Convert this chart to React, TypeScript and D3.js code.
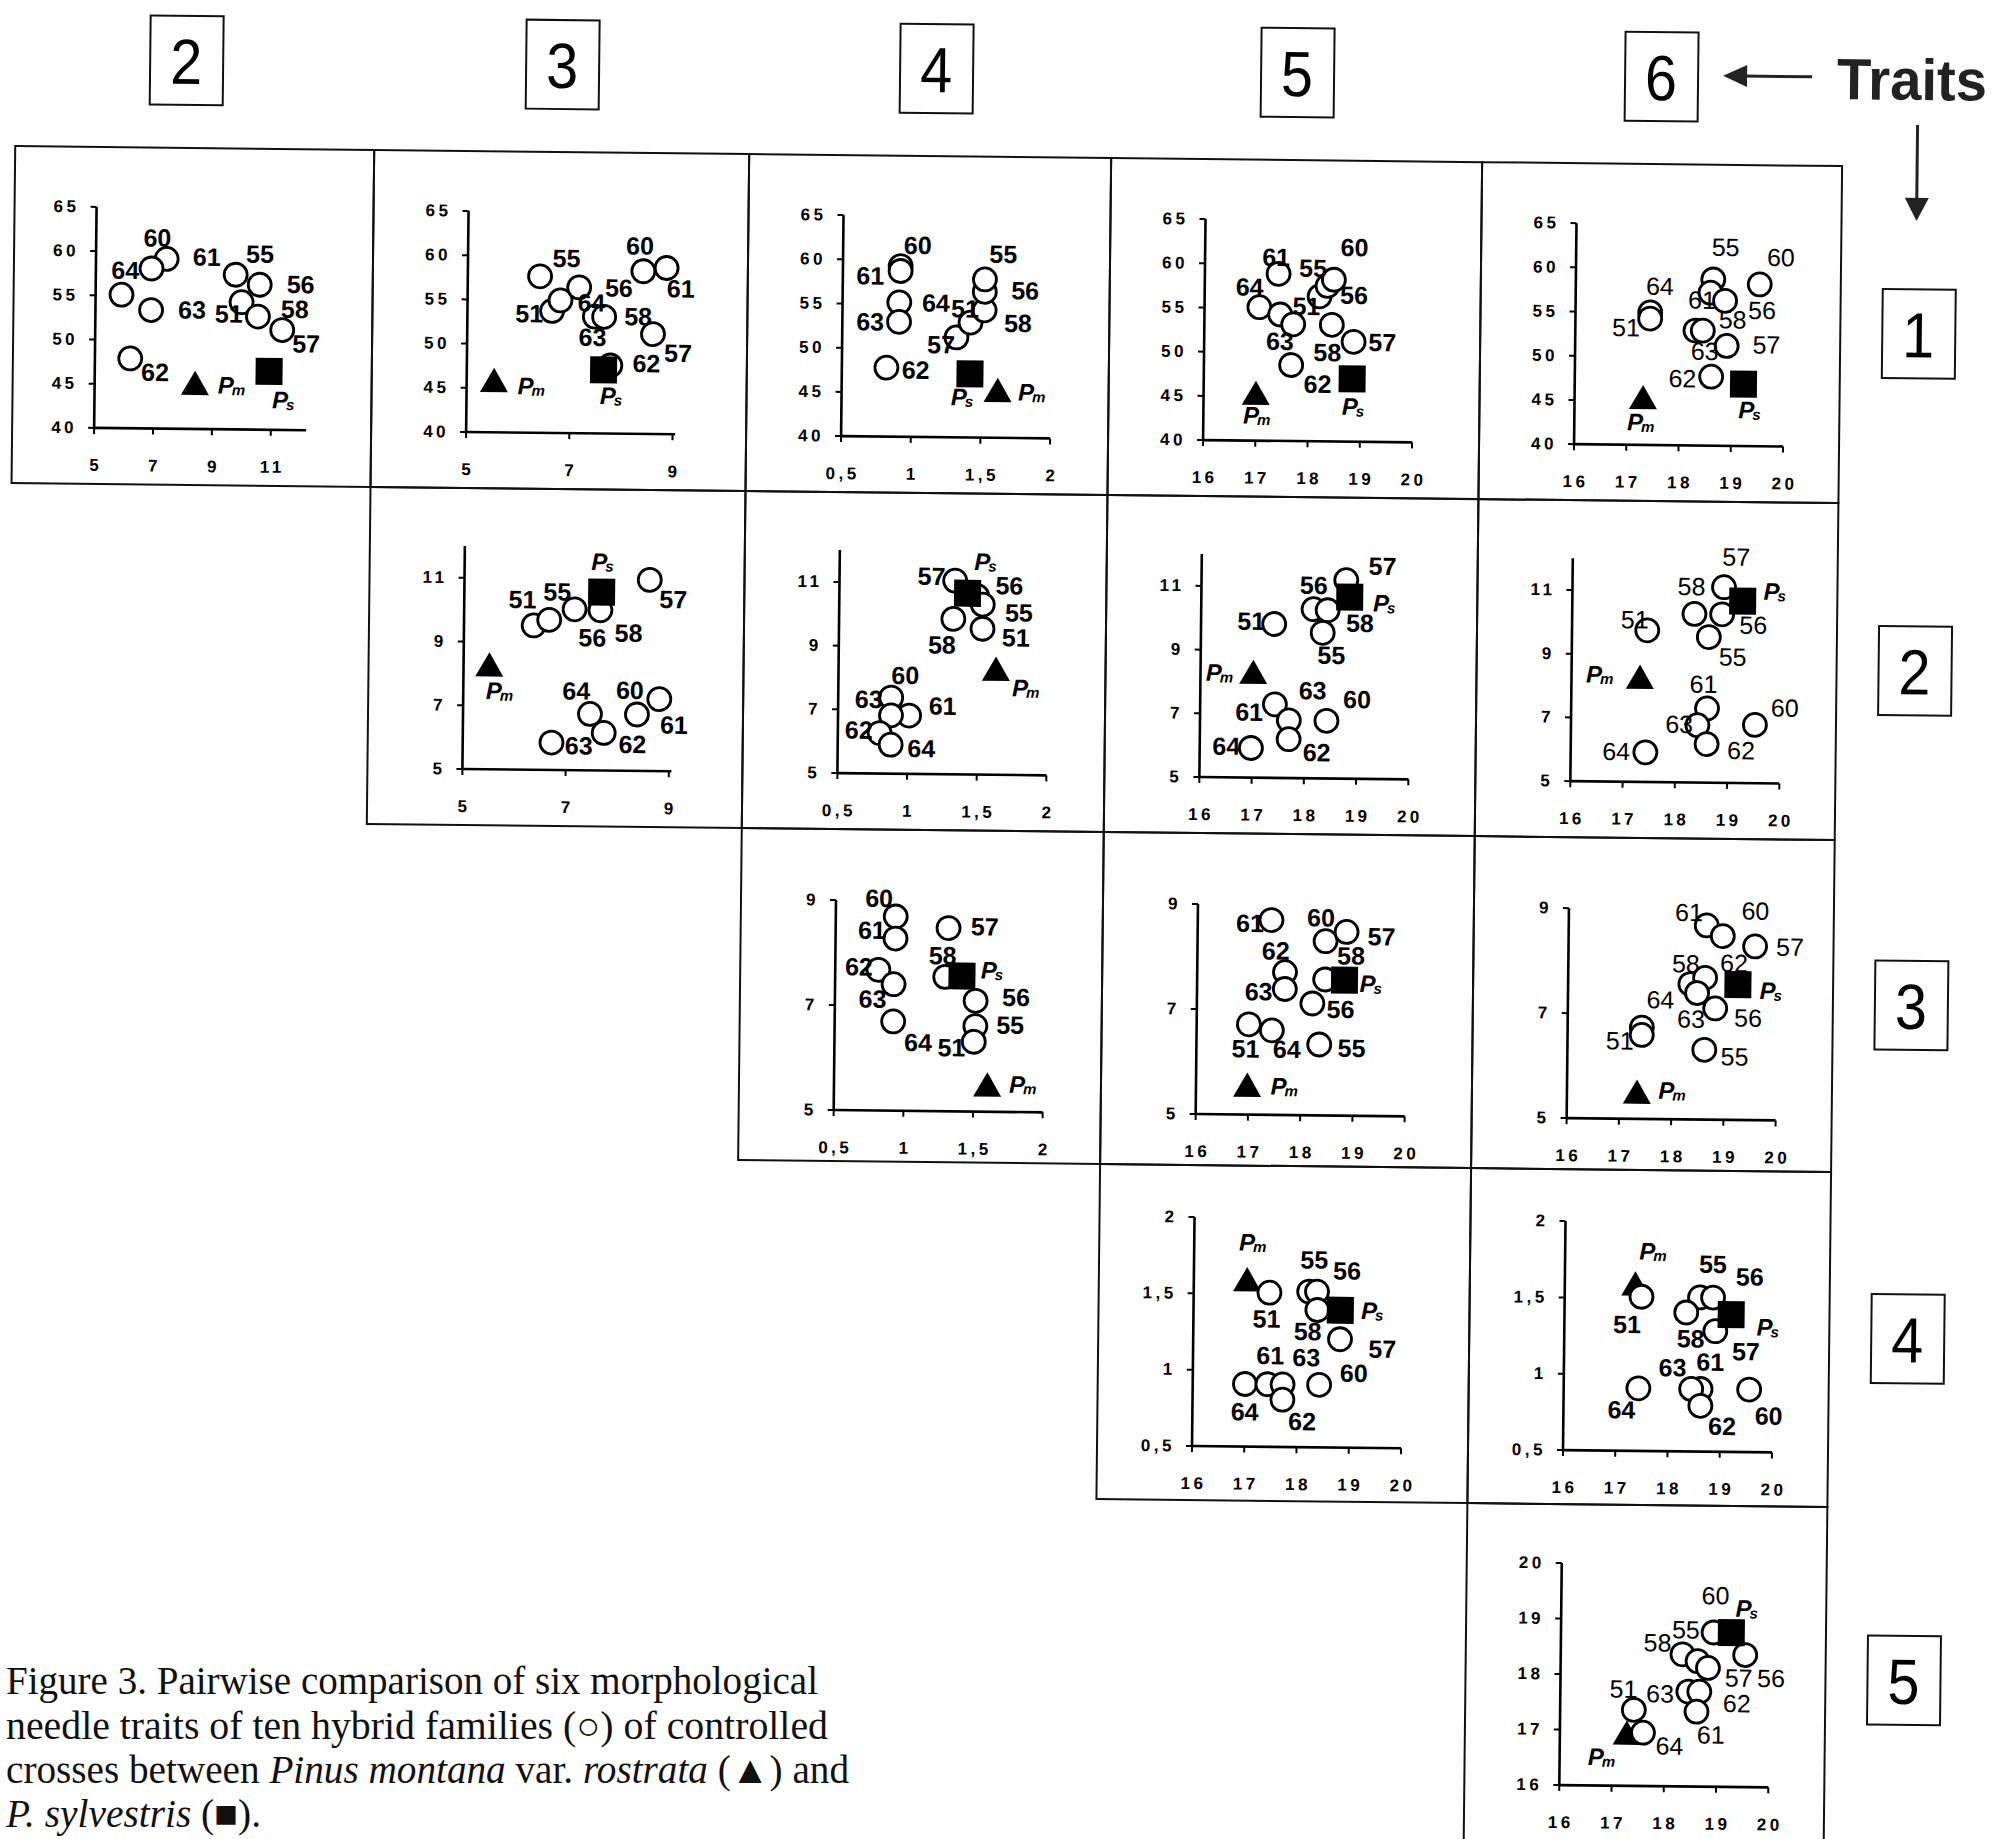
import React from "react";
import * as d3 from "d3";

type Pt = [string, number, number];

// ---------- axes per trait ----------
const T1_TICKS = [40, 45, 50, 55, 60, 65];
const T2_TICKS = [5, 7, 9, 11];
const T3_TICKS = [5, 7, 9];
const T4_TICKS = [0.5, 1, 1.5, 2];
const T56_TICKS = [16, 17, 18, 19, 20];

const X_AXES: Record<number, { domain: [number, number]; ticks: number[] }> = {
  2: { domain: [5, 12.2], ticks: T2_TICKS },
  3: { domain: [5, 9.05], ticks: T3_TICKS },
  4: { domain: [0.5, 2], ticks: T4_TICKS },
  5: { domain: [16, 20], ticks: T56_TICKS },
  6: { domain: [16, 20], ticks: T56_TICKS },
};
const Y_AXES: Record<number, { domain: [number, number]; ticks: number[] }> = {
  1: { domain: [40, 65], ticks: T1_TICKS },
  2: { domain: [5, 12], ticks: T2_TICKS },
  3: { domain: [5, 9], ticks: T3_TICKS },
  4: { domain: [0.5, 2], ticks: T4_TICKS },
  5: { domain: [16, 20], ticks: T56_TICKS },
};

// ---------- data: markers [family, x, y] and label anchors [text, x, y] ----------
const pts12: Pt[] = [["64",5.88,55.1],["60",7.4,59.2],["61",6.89,58.1],["63",6.89,53.4],["62",6.2,47.9],["55",9.75,57.5],["56",10.57,56.4],["51",9.96,54.4],["58",10.52,52.8],["57",11.35,51.3],["Pm",8.41,45.1],["Ps",10.92,46.6]];
const lab12: Pt[] = [["64",6.0,57.9],["60",7.08,61.6],["61",8.76,59.5],["55",10.57,59.9],["56",11.96,56.5],["63",8.28,53.5],["51",9.53,53.1],["58",11.77,53.7],["57",12.17,49.8],["62",7.05,46.4],["Pm",9.72,45.0],["Ps",11.48,43.4]];

const pts13: Pt[] = [["55",6.4,57.7],["51",6.64,53.8],["64",6.8,55.0],["56",7.16,56.5],["63",7.47,53.2],["58",7.65,53.2],["60",8.4,58.4],["61",8.85,58.8],["57",8.6,51.3],["62",7.78,47.7],["Pm",5.53,45.8],["Ps",7.65,47.2]];
const lab13: Pt[] = [["55",6.91,59.8],["51",6.2,53.5],["64",7.4,54.8],["63",7.43,50.9],["60",8.33,61.3],["61",9.13,56.5],["57",9.09,49.2],["62",8.48,48.0],["56",7.93,56.5],["58",8.31,53.3],["Pm",6.29,45.3],["Ps",7.84,44.3]];

const pts14: Pt[] = [["60",0.914,59.3],["61",0.914,58.75],["64",0.907,55.2],["63",0.907,53.0],["62",0.82,47.8],["57",1.32,51.3],["51",1.42,53.0],["58",1.52,54.4],["56",1.52,56.5],["55",1.52,57.9],["Pm",1.62,45.3],["Ps",1.42,47.2]];
const lab14: Pt[] = [["60",1.036,61.7],["61",0.697,58.2],["64",1.17,55.2],["63",0.7,53.0],["62",1.03,47.6],["57",1.21,50.5],["51",1.38,54.6],["58",1.76,53.0],["56",1.81,56.7],["55",1.65,60.8],["Pm",1.88,45.2],["Ps",1.38,44.6]];

const pts15: Pt[] = [["61",17.41,58.9],["64",17.05,55.1],["63",17.45,54.3],["51",17.7,53.2],["62",17.67,48.6],["56",18.2,56.4],["55",18.35,57.6],["60",18.47,58.3],["58",18.44,53.2],["57",18.86,51.3],["Pm",17.0,45.3],["Ps",18.84,47.1]];
const lab15: Pt[] = [["61",17.36,60.8],["64",16.86,57.4],["63",17.45,51.3],["62",18.18,46.5],["51",17.95,55.3],["55",18.07,59.6],["60",18.86,62.0],["58",18.36,50.1],["57",19.41,51.3],["56",18.86,56.6],["Pm",17.06,42.9],["Ps",18.9,44.0]];

const pts16: Pt[] = [["64",17.43,55.0],["51",17.43,54.3],["55",18.63,58.8],["60",19.52,58.3],["61",18.58,57.3],["56",18.86,56.4],["63",18.3,53.0],["58",18.44,53.0],["57",18.9,51.3],["62",18.61,47.8],["Pm",17.31,45.3],["Ps",19.23,47.0]];
const lab16: Pt[] = [["64",17.61,58.0],["51",16.97,53.3],["55",18.86,62.5],["60",19.92,61.4],["61",18.42,56.5],["56",19.57,55.4],["58",19.01,54.3],["63",18.48,50.7],["57",19.66,51.5],["62",18.06,47.6],["Pm",17.31,42.6],["Ps",19.39,44.1]];

const pts23: Pt[] = [["51",6.35,9.53],["55",6.65,9.71],["56",7.14,10.05],["58",7.64,10.03],["57",8.59,11.0],["64",7.46,6.77],["62",7.73,6.18],["63",6.72,5.86],["60",8.37,6.77],["61",8.8,7.26],["Pm",5.5,8.26],["Ps",7.66,10.6]];
const lab23: Pt[] = [["51",6.13,10.35],["55",6.8,10.6],["56",7.49,9.17],["58",8.19,9.33],["57",9.05,10.4],["64",7.19,7.5],["62",8.29,5.84],["63",7.25,5.78],["60",8.23,7.54],["61",9.09,6.46],["Pm",5.74,7.47],["Ps",7.71,11.56]];

const pts24: Pt[] = [["57",1.33,11.08],["56",1.49,10.6],["55",1.53,10.34],["58",1.32,9.88],["51",1.53,9.58],["60",0.88,7.39],["61",1.01,6.83],["63",0.88,6.83],["62",0.8,6.27],["64",0.88,5.91],["Pm",1.63,8.3],["Ps",1.42,10.69]];
const lab24: Pt[] = [["57",1.16,11.22],["56",1.72,10.95],["55",1.79,10.1],["58",1.24,9.07],["51",1.77,9.32],["60",0.98,8.1],["61",1.25,7.15],["63",0.72,7.34],["62",0.65,6.37],["64",1.1,5.81],["Pm",1.86,7.74],["Ps",1.56,11.69]];

const pts25: Pt[] = [["57",18.77,11.23],["56",18.15,10.31],["58",18.42,10.28],["55",18.33,9.57],["51",17.4,9.83],["61",17.43,7.31],["63",17.7,6.81],["62",17.7,6.22],["60",18.42,6.81],["64",16.98,5.93],["Pm",17.01,8.29],["Ps",18.84,10.7]];
const lab25: Pt[] = [["57",19.46,11.69],["56",18.15,11.07],["55",18.5,8.88],["51",16.96,9.92],["61",16.94,7.07],["63",18.15,7.76],["62",18.24,5.82],["60",19.0,7.5],["64",16.51,5.99],["58",19.04,9.89],["Pm",16.4,8.29],["Ps",19.54,10.52]];

const pts26: Pt[] = [["57",18.9,11.14],["58",18.34,10.29],["56",18.87,10.29],["55",18.62,9.57],["51",17.44,9.76],["61",18.6,7.33],["63",18.42,6.8],["62",18.6,6.21],["60",19.52,6.83],["64",17.43,5.93],["Pm",17.31,8.27],["Ps",19.26,10.71]];
const lab26: Pt[] = [["57",19.13,12.1],["58",18.28,11.16],["55",19.08,8.96],["51",17.2,10.1],["61",18.53,8.1],["63",18.07,6.83],["62",19.26,6.03],["60",20.09,7.38],["64",16.87,5.96],["56",19.47,9.97],["Pm",16.58,8.37],["Ps",19.91,11.03]];

const pts34: Pt[] = [["60",0.93,8.7],["61",0.93,8.28],["62",0.81,7.68],["63",0.92,7.41],["64",0.92,6.7],["57",1.31,8.49],["58",1.29,7.56],["56",1.51,7.11],["55",1.51,6.63],["51",1.5,6.33],["Pm",1.6,5.5],["Ps",1.41,7.58]];
const lab34: Pt[] = [["60",0.81,9.05],["61",0.76,8.44],["62",0.67,7.74],["63",0.77,7.13],["64",1.1,6.31],["57",1.57,8.53],["58",1.27,7.97],["56",1.8,7.19],["55",1.76,6.66],["51",1.34,6.22],["Pm",1.87,5.53],["Ps",1.64,7.7]];

const pts35: Pt[] = [["61",17.41,8.71],["60",18.45,8.32],["57",18.85,8.5],["62",17.68,7.72],["63",17.68,7.4],["58",18.45,7.59],["56",18.21,7.13],["51",17.0,6.72],["64",17.44,6.61],["55",18.35,6.35],["Pm",16.98,5.55],["Ps",18.82,7.58]];
const lab35: Pt[] = [["61",17.0,8.65],["60",18.36,8.77],["57",19.52,8.42],["62",17.5,8.13],["63",17.18,7.35],["58",18.94,8.05],["56",18.75,7.03],["51",16.94,6.26],["64",17.73,6.26],["55",18.97,6.29],["Pm",17.73,5.55],["Ps",19.36,7.52]];

const pts36: Pt[] = [["61",18.64,8.7],["60",18.95,8.5],["57",19.57,8.31],["58",18.34,7.58],["62",18.62,7.7],["63",18.47,7.41],["56",18.82,7.12],["51",17.42,6.74],["64",17.42,6.6],["55",18.62,6.33],["Pm",17.34,5.5],["Ps",19.25,7.58]];
const lab36: Pt[] = [["61",18.3,8.95],["60",19.57,8.99],["57",20.24,8.31],["58",18.25,7.97],["62",19.17,7.99],["64",17.77,7.28],["63",18.36,6.92],["56",19.45,6.95],["51",17.0,6.49],["55",19.2,6.21],["Pm",18.05,5.55],["Ps",19.92,7.47]];

const pts45: Pt[] = [["51",17.45,1.51],["55",18.21,1.52],["56",18.36,1.52],["58",18.37,1.4],["57",18.81,1.21],["64",17.0,0.91],["61",17.43,0.91],["63",17.72,0.91],["62",17.72,0.81],["60",18.42,0.91],["Pm",17.02,1.59],["Ps",18.81,1.4]];
const lab45: Pt[] = [["51",17.4,1.34],["55",18.3,1.73],["56",18.93,1.66],["58",18.19,1.26],["57",19.62,1.15],["64",17.0,0.73],["61",17.48,1.1],["62",18.1,0.67],["63",18.17,1.09],["60",19.08,0.99],["Pm",17.16,1.84],["Ps",19.46,1.4]];

const pts46: Pt[] = [["51",17.47,1.51],["55",18.59,1.51],["56",18.84,1.51],["58",18.33,1.41],["57",18.89,1.29],["64",17.43,0.91],["61",18.62,0.91],["63",18.44,0.91],["62",18.62,0.8],["60",19.55,0.91],["Pm",17.35,1.59],["Ps",19.19,1.4]];
const lab46: Pt[] = [["51",17.2,1.33],["55",18.83,1.73],["56",19.54,1.65],["58",18.42,1.24],["57",19.48,1.16],["64",17.11,0.77],["61",18.8,1.09],["63",18.08,1.05],["62",19.04,0.67],["60",19.93,0.74],["Pm",17.72,1.81],["Ps",19.93,1.32]];

const pts56: Pt[] = [["60",18.92,18.78],["58",18.33,18.38],["55",18.62,18.26],["57",18.82,18.14],["56",19.53,18.38],["63",18.45,17.71],["62",18.66,17.71],["61",18.61,17.35],["51",17.41,17.37],["64",17.59,16.96],["Pm",17.28,16.94],["Ps",19.26,18.78]];
const lab56: Pt[] = [["60",18.95,19.45],["55",18.39,18.83],["58",17.85,18.59],["57",19.41,17.97],["56",20.03,17.97],["63",17.91,17.67],["62",19.38,17.51],["61",18.89,16.94],["51",17.21,17.75],["64",18.1,16.73],["Pm",16.84,16.52],["Ps",19.59,19.22]];

const PANELS: { r: number; c: number; pts: Pt[]; labs: Pt[] }[] = [
  { r: 1, c: 2, pts: pts12, labs: lab12 },
  { r: 1, c: 3, pts: pts13, labs: lab13 },
  { r: 1, c: 4, pts: pts14, labs: lab14 },
  { r: 1, c: 5, pts: pts15, labs: lab15 },
  { r: 1, c: 6, pts: pts16, labs: lab16 },
  { r: 2, c: 3, pts: pts23, labs: lab23 },
  { r: 2, c: 4, pts: pts24, labs: lab24 },
  { r: 2, c: 5, pts: pts25, labs: lab25 },
  { r: 2, c: 6, pts: pts26, labs: lab26 },
  { r: 3, c: 4, pts: pts34, labs: lab34 },
  { r: 3, c: 5, pts: pts35, labs: lab35 },
  { r: 3, c: 6, pts: pts36, labs: lab36 },
  { r: 4, c: 5, pts: pts45, labs: lab45 },
  { r: 4, c: 6, pts: pts46, labs: lab46 },
  { r: 5, c: 6, pts: pts56, labs: lab56 },
];

const COL_TRAITS = [2, 3, 4, 5, 6];
const ROW_TRAITS = [1, 2, 3, 4, 5];
const REGULAR = ["1-6", "2-6", "3-6", "5-6"];

// ---------- layout ----------
const W = 1998, H = 1839;
const COL_EDGES = [7, 366, 741, 1103, 1474, 1834];
const ROW_EDGES = [156, 493, 830, 1162, 1497, 1845];
const ROW_TOP: Record<number, number> = { 1: 60, 2: 58, 3: 71, 4: 52, 5: 59 };
const HEADER_X = [177, 553, 927, 1288, 1652];
const SANS = "'Liberation Sans', Arial, Helvetica, sans-serif";
const SERIF = "'Liberation Serif', 'Times New Roman', serif";

const fmt = (v: number) => String(v).replace(".", ",");

function PLabel({ x, y, sub }: { x: number; y: number; sub: string }) {
  return (
    <text x={x - 2} y={y} textAnchor="middle" dominantBaseline="central" fontFamily={SANS}
      fontStyle="italic" fontWeight="bold" fontSize={24}>
      P<tspan fontSize={15} dy={4} dx={-2}>{sub}</tspan>
    </text>
  );
}

function Panel({ r, c, pts, labs }: { r: number; c: number; pts: Pt[]; labs: Pt[] }) {
  const x0 = COL_EDGES[c - 2], x1 = COL_EDGES[c - 1];
  const y0 = ROW_EDGES[r - 1], y1 = ROW_EDGES[r];
  const ax = x0 + (c === 2 ? 82 : 95);
  const pw = c === 2 ? 212 : 209;
  const bottom = y0 + 281, top = y0 + ROW_TOP[r];
  const xd = X_AXES[c], yd = Y_AXES[r];
  const xs = d3.scaleLinear().domain(xd.domain).range([ax, ax + pw]);
  const ys = d3.scaleLinear().domain(yd.domain).range([bottom, top]);
  const regular = REGULAR.includes(`${r}-${c}`);
  const circles = pts.filter((p) => p[0] !== "Pm" && p[0] !== "Ps");
  const pm = pts.find((p) => p[0] === "Pm")!;
  const ps = pts.find((p) => p[0] === "Ps")!;
  const tri = d3.symbol().type(d3.symbolTriangle).size(340)();
  return (
    <g>
      <rect x={x0} y={y0} width={x1 - x0} height={y1 - y0} fill="none" stroke="#111" strokeWidth={2} />
      <line x1={ax} x2={ax} y1={top} y2={bottom} stroke="#000" strokeWidth={2.6} />
      <line x1={ax} x2={ax + pw} y1={bottom} y2={bottom} stroke="#000" strokeWidth={2.6} />
      {yd.ticks.map((t) => (
        <g key={"y" + t}>
          <line x1={ax - 6} x2={ax} y1={ys(t)} y2={ys(t)} stroke="#000" strokeWidth={2} />
          <text x={ax - 17} y={ys(t)} textAnchor="end" dominantBaseline="central" fontFamily={SANS}
            fontWeight="bold" fontSize={17} letterSpacing={3.5}>{fmt(t)}</text>
        </g>
      ))}
      {xd.ticks.map((t) => (
        <g key={"x" + t}>
          <line x1={xs(t)} x2={xs(t)} y1={bottom} y2={bottom + 6} stroke="#000" strokeWidth={2} />
          <text x={xs(t) + 2} y={bottom + 43} textAnchor="middle" fontFamily={SANS}
            fontWeight="bold" fontSize={17} letterSpacing={3.5}>{fmt(t)}</text>
        </g>
      ))}
      <path d={tri} transform={`translate(${xs(pm[1])},${ys(pm[2]) + 3})`} fill="#000" />
      {circles.map((p, i) => (
        <circle key={i} cx={xs(p[1])} cy={ys(p[2])} r={11.5} fill="#fff" stroke="#000" strokeWidth={2.8} />
      ))}
      <rect x={xs(ps[1]) - 13.5} y={ys(ps[2]) - 13.5} width={27} height={27} fill="#000" />
      {labs.map((l, i) =>
        l[0] === "Pm" || l[0] === "Ps" ? (
          <PLabel key={i} x={xs(l[1])} y={ys(l[2])} sub={l[0] === "Pm" ? "m" : "s"} />
        ) : (
          <text key={i} x={xs(l[1])} y={ys(l[2])} textAnchor="middle" dominantBaseline="central"
            fontFamily={SANS} fontWeight={regular ? "normal" : "bold"} fontSize={25}>{l[0]}</text>
        )
      )}
    </g>
  );
}

function NumBox({ cx, cy, label }: { cx: number; cy: number; label: string }) {
  return (
    <g>
      <rect x={cx - 36} y={cy - 44} width={73} height={89} fill="#fff" stroke="#111" strokeWidth={2} />
      <text x={cx} y={cy + 2} textAnchor="middle" dominantBaseline="central" fontFamily={SANS}
        fontSize={64} textLength={32} lengthAdjust="spacingAndGlyphs">{label}</text>
    </g>
  );
}

export default function App() {
  return (
    <svg width={W} height={H} viewBox={`0 0 ${W} ${H}`}
      style={{ position: "absolute", left: 0, top: 0, background: "#fff" }}>
      <rect x={0} y={0} width={W} height={H} fill="#fff" />
      <g transform="rotate(0.63, 920, 900)">
        {COL_TRAITS.map((t, i) => (
          <NumBox key={"h" + t} cx={HEADER_X[i]} cy={68} label={String(t)} />
        ))}
        {ROW_TRAITS.map((t, i) => (
          <NumBox key={"r" + t} cx={1912} cy={(ROW_EDGES[i] + ROW_EDGES[i + 1]) / 2 - 2} label={String(t)} />
        ))}
        <line x1={1735} x2={1803} y1={67} y2={67} stroke="#222" strokeWidth={3} />
        <path d="M1714,67 L1738,56 L1738,78 Z" fill="#222" />
        <text x={1828} y={89} fontFamily={SANS} fontWeight="bold" fontSize={58} fill="#222"
          textLength={150} lengthAdjust="spacingAndGlyphs">Traits</text>
        <line x1={1909} x2={1909} y1={114} y2={190} stroke="#222" strokeWidth={3} />
        <path d="M1909,210 L1897,187 L1921,187 Z" fill="#222" />
        {PANELS.map((p) => (
          <Panel key={`${p.r}-${p.c}`} {...p} />
        ))}
      </g>
      <g fontFamily={SERIF} fontSize={39} fill="#111">
        <text x={6} y={1694} textLength={812} lengthAdjust="spacingAndGlyphs">Figure 3. Pairwise comparison of six morphological</text>
        <text x={6} y={1739} textLength={822} lengthAdjust="spacingAndGlyphs">needle traits of ten hybrid families (○) of controlled</text>
        <text x={6} y={1783} textLength={843} lengthAdjust="spacingAndGlyphs">crosses between <tspan fontStyle="italic">Pinus montana</tspan> var. <tspan fontStyle="italic">rostrata</tspan> (▲) and</text>
        <text x={6} y={1827} textLength={255} lengthAdjust="spacingAndGlyphs"><tspan fontStyle="italic">P. sylvestris</tspan> (■).</text>
      </g>
    </svg>
  );
}
